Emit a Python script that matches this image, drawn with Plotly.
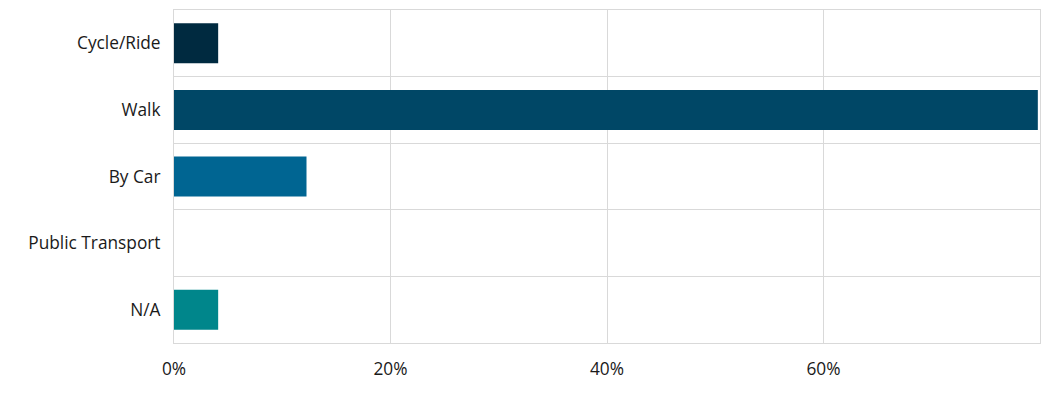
import plotly.graph_objects as go

categories = ["Cycle/Ride", "Walk", "By Car", "Public Transport", "N/A"]
values = [4.08, 79.8, 12.24, 0, 4.08]
bar_colors = ["#002A40", "#004766", "#006592", "#0079A0", "#00868B"]
x_ticks = [0, 20, 40, 60]
x_tick_labels = ["0%", "20%", "40%", "60%"]

fig = go.Figure(go.Bar(
    x=values, y=categories, orientation="h",
    marker=dict(color=bar_colors, line=dict(width=0)),
    hoverinfo="x+y",
))

fig.update_layout(
    width=1044, height=377,
    margin=dict(l=166, r=12, t=2, b=42),
    paper_bgcolor="white", plot_bgcolor="white",
    font=dict(family="Open Sans, Noto Sans, sans-serif", size=17.3, color="#1A1A1A"),
    bargap=0.4, showlegend=False,
)
fig.update_xaxes(
    range=[0, 80], tickvals=x_ticks, ticktext=x_tick_labels,
    showgrid=True, gridcolor="#D9D9D9", gridwidth=1,
    showline=True, linecolor="#D9D9D9", mirror=True,
    zeroline=False, ticks="", ticklabelstandoff=10,
)
fig.update_yaxes(
    autorange="reversed", tickson="boundaries",
    showgrid=True, gridcolor="#D9D9D9", gridwidth=1,
    showline=True, linecolor="#D9D9D9", mirror=True,
    ticks="", ticklabelstandoff=9,
)

fig.write_html("out.html")
